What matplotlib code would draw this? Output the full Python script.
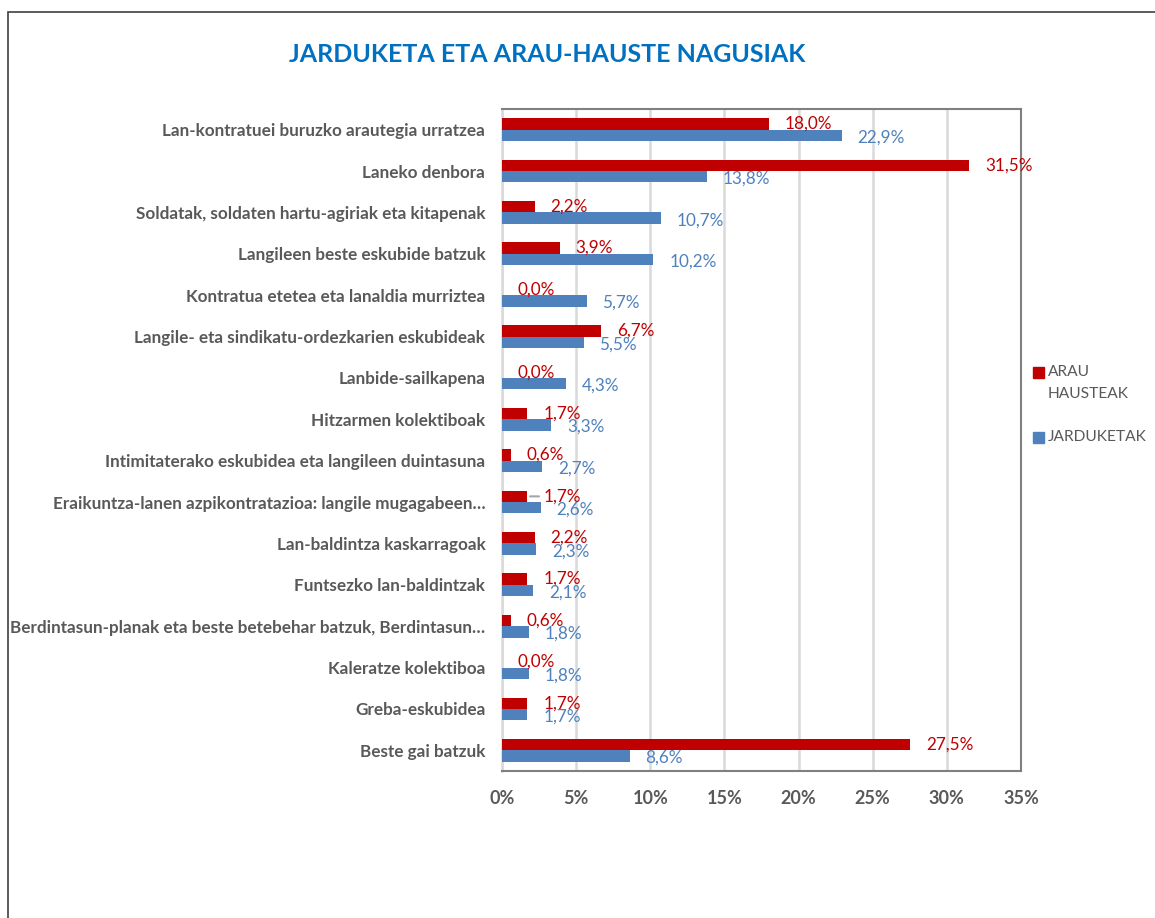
import matplotlib
matplotlib.use("Agg")
import matplotlib.pyplot as plt
import numpy as np
from matplotlib.patches import Rectangle
from matplotlib.ticker import FuncFormatter

plt.rcParams["font.family"] = ["Lato", "DejaVu Sans"]

# datuak
gaiak = [
    "Lan-kontratuei buruzko arautegia urratzea",
    "Laneko denbora",
    "Soldatak, soldaten hartu-agiriak eta kitapenak",
    "Langileen beste eskubide batzuk",
    "Kontratua etetea eta lanaldia murriztea",
    "Langile- eta sindikatu-ordezkarien eskubideak",
    "Lanbide-sailkapena",
    "Hitzarmen kolektiboak",
    "Intimitaterako eskubidea eta langileen duintasuna",
    "Eraikuntza-lanen azpikontratazioa: langile mugagabeen…",
    "Lan-baldintza kaskarragoak",
    "Funtsezko lan-baldintzak",
    "Berdintasun-planak eta beste betebehar batzuk, Berdintasun…",
    "Kaleratze kolektiboa",
    "Greba-eskubidea",
    "Beste gai batzuk",
]
arau_hausteak = [18.0, 31.5, 2.2, 3.9, 0.0, 6.7, 0.0, 1.7, 0.6, 1.7, 2.2, 1.7, 0.6, 0.0, 1.7, 27.5]
jarduketak = [22.9, 13.8, 10.7, 10.2, 5.7, 5.5, 4.3, 3.3, 2.7, 2.6, 2.3, 2.1, 1.8, 1.8, 1.7, 8.6]
x_ticks = [0, 5, 10, 15, 20, 25, 30, 35]

gorria = "#C00000"
urdina = "#4F81BD"
grisa = "#595959"

W, H = 1155, 918
fig = plt.figure(figsize=(W / 100, H / 100), dpi=100)

# kanpoko markoa
fig.patches.append(Rectangle((8 / W, -0.05), 1.1, 1 - 12 / H + 0.05,
                             transform=fig.transFigure, fill=False,
                             edgecolor="#404040", linewidth=1.2))

ax = fig.add_axes([502 / W, 1 - 771 / H, 519 / W, 662 / H])

y = np.arange(len(gaiak))
h = 0.275
ax.barh(y - h / 2, arau_hausteak, height=h, color=gorria, zorder=3)
ax.barh(y + h / 2, jarduketak, height=h, color=urdina, zorder=3)

def etiketa(v):
    return f"{v:.1f}".replace(".", ",") + "%"

for i, (r, b) in enumerate(zip(arau_hausteak, jarduketak)):
    gezia = None
    if i == 9:
        # Excel-eko gida-lerroa
        gezia = dict(arrowstyle="-", color="#A6A6A6", lw=1.5, shrinkA=1, shrinkB=2)
    ax.annotate(etiketa(r), (r, i - h / 2), xytext=(11.5, 0), textcoords="offset points",
                ha="left", va="center", color=gorria, fontsize=12.3, arrowprops=gezia)
    ax.annotate(etiketa(b), (b, i + h / 2), xytext=(11.5, -1.5), textcoords="offset points",
                ha="left", va="center", color=urdina, fontsize=12.3)

ax.set_xlim(0, 35)
ax.set_ylim(len(gaiak) - 0.5, -0.5)
ax.set_xticks(x_ticks)
ax.xaxis.set_major_formatter(FuncFormatter(lambda v, p: f"{v:.0f}%"))
ax.set_yticks(y)
ax.set_yticklabels(gaiak)
ax.tick_params(axis="both", length=0, colors=grisa)
ax.tick_params(axis="x", pad=14, labelsize=13)
ax.tick_params(axis="y", pad=12, labelsize=12.3)
for lbl in ax.get_xticklabels() + ax.get_yticklabels():
    lbl.set_fontweight("bold")

ax.grid(axis="x", color="#D9D9D9", linewidth=1.8, zorder=0)
for s in ["top", "right", "bottom"]:
    ax.spines[s].set_color("#808080")
    ax.spines[s].set_linewidth(1.5)
ax.spines["left"].set_color("#D9D9D9")
ax.spines["left"].set_linewidth(1.8)

fig.text(547 / W, 1 - 55 / H, "JARDUKETA ETA ARAU-HAUSTE NAGUSIAK",
         ha="center", va="center", color="#0070C0", fontsize=18, fontweight="bold")

# legenda
legenda = [("ARAU", gorria, 372), ("JARDUKETAK", urdina, 437)]
for testua, kolorea, ly in legenda:
    fig.patches.append(Rectangle((1033 / W, 1 - (ly + 5.5) / H), 11 / W, 11 / H,
                                 transform=fig.transFigure, color=kolorea))
    fig.text(1048 / W, 1 - ly / H, testua, ha="left", va="center",
             color=grisa, fontsize=11.2)
fig.text(1048 / W, 1 - 394 / H, "HAUSTEAK", ha="left", va="center",
         color=grisa, fontsize=11.2)

fig.savefig("out.png", dpi=100)
